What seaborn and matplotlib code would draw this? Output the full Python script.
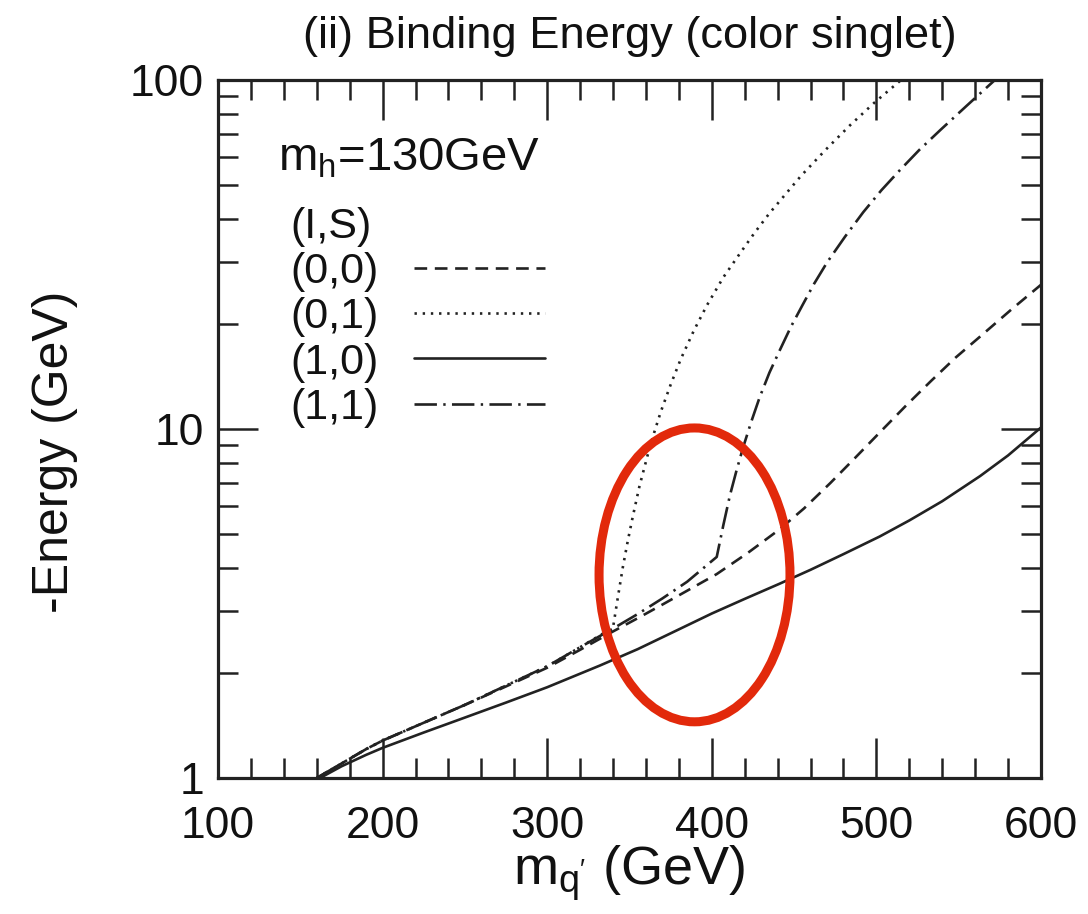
import matplotlib
matplotlib.use("Agg")
import matplotlib.pyplot as plt
from matplotlib.patches import Ellipse
from matplotlib.ticker import MultipleLocator, LogLocator, NullFormatter, FuncFormatter
import numpy as np
import pandas as pd
import seaborn as sns

# Binding energy (-E, GeV) versus heavy quark mass m_q' (GeV) for each (I,S) channel
mq_00 = [160, 175, 190, 200, 225, 250, 275, 300, 320, 340, 355, 370, 385, 403,
         422, 441, 456, 472, 487, 502, 518, 533, 548, 563, 582, 600]
E_00 = [1.00, 1.10, 1.21, 1.28, 1.44, 1.62, 1.83, 2.07, 2.33, 2.63, 2.87, 3.14, 3.44, 3.84,
        4.42, 5.15, 5.92, 7.00, 8.26, 9.77, 11.67, 13.7, 16.0, 18.4, 22.0, 25.9]

mq_01 = [160, 175, 190, 200, 225, 250, 275, 300, 320, 340, 343, 346, 349, 352, 356, 361,
         365, 369, 375, 381, 389, 397, 407, 417, 426, 435, 445, 454, 469, 484, 499, 515]
E_01 = [1.00, 1.10, 1.21, 1.28, 1.44, 1.62, 1.84, 2.09, 2.37, 2.70, 3.31, 4.03, 4.79, 5.61,
        6.84, 8.41, 9.77, 11.2, 13.4, 15.8, 19.1, 22.6, 27.2, 31.8, 36.5, 41.5, 47.2, 53.0,
        63.0, 74.2, 86.3, 100.0]

mq_10 = [162, 175, 190, 200, 225, 250, 275, 300, 332, 355, 381, 400, 420, 441,
         460, 480, 502, 520, 540, 563, 580, 600]
E_10 = [1.00, 1.08, 1.165, 1.22, 1.35, 1.49, 1.645, 1.82, 2.10, 2.34, 2.68, 2.96, 3.26, 3.60,
        3.95, 4.38, 4.92, 5.47, 6.21, 7.33, 8.40, 10.1]

mq_11 = [160, 175, 190, 200, 225, 250, 275, 300, 320, 340, 355, 370, 385, 403, 407, 411,
         415, 419, 424, 429, 435, 441, 448, 455, 462, 470, 481, 492, 503, 514, 526, 539,
         555, 572]
E_11 = [1.00, 1.10, 1.21, 1.28, 1.44, 1.62, 1.84, 2.09, 2.37, 2.68, 2.95, 3.27, 3.65, 4.30,
        5.30, 6.45, 7.60, 8.85, 10.5, 12.3, 14.5, 16.7, 19.6, 22.6, 26.0, 30.0, 35.6, 41.8,
        48.3, 55.0, 63.0, 72.0, 84.5, 100.0]

channels = ["(0,0)", "(0,1)", "(1,0)", "(1,1)"]

frames = []
for lab, xs, ys in zip(channels, [mq_00, mq_01, mq_10, mq_11], [E_00, E_01, E_10, E_11]):
    frames.append(pd.DataFrame({"m": xs, "E": ys, "IS": lab}))
df = pd.concat(frames, ignore_index=True)

sns.set_theme(style="ticks")
plt.rcParams["font.family"] = ["Liberation Sans", "DejaVu Sans"]
plt.rcParams["mathtext.fontset"] = "custom"
plt.rcParams["mathtext.rm"] = "Liberation Sans"
plt.rcParams["mathtext.it"] = "Liberation Sans"
plt.rcParams["mathtext.default"] = "regular"

ink = "#222222"
txt = "#111111"
fig = plt.figure(figsize=(10.88, 9.14), dpi=100)
ax = fig.add_axes([218 / 1088, 1 - 778 / 914, 823 / 1088, 698 / 914])

dash_map = {
    "(0,0)": (4.8, 2.9),
    "(0,1)": (0.9, 2.2),
    "(1,0)": "",
    "(1,1)": (8.5, 2.4, 0.9, 2.4),
}
sns.lineplot(data=df, x="m", y="E", style="IS", style_order=channels,
             dashes=dash_map, color=ink, linewidth=1.9, estimator=None,
             errorbar=None, legend=False, ax=ax)

ax.set_yscale("log")
ax.set_xlim(100, 600)
ax.set_ylim(1, 100)

ax.xaxis.set_major_locator(MultipleLocator(100))
ax.xaxis.set_minor_locator(MultipleLocator(20))
ax.yaxis.set_major_locator(LogLocator(base=10))
ax.yaxis.set_minor_locator(LogLocator(base=10, subs=np.arange(2, 10)))
ax.yaxis.set_major_formatter(FuncFormatter(lambda v, p: f"{v:g}"))
ax.yaxis.set_minor_formatter(NullFormatter())

ax.tick_params(which="both", direction="in", top=True, right=True,
               color=ink, width=1.8, labelsize=32, labelcolor=txt)
ax.tick_params(which="major", length=29)
ax.tick_params(which="minor", length=14.5)
ax.tick_params(axis="x", pad=20)
ax.tick_params(axis="y", pad=10)
for sp in ax.spines.values():
    sp.set_linewidth(2.3)
    sp.set_color(ink)

ax.set_title("(ii) Binding Energy (color singlet)", fontsize=32.6, pad=23, color=txt)
ax.set_xlabel("$m_{q'}$ (GeV)", fontsize=39, color=txt)
ax.set_ylabel("-Energy (GeV)", fontsize=36, color=txt)
ax.xaxis.set_label_coords(0.5, -0.093)
ax.yaxis.set_label_coords(-0.17, 0.468)

ax.text(0.073, 0.888, "$m_h$=130GeV", transform=ax.transAxes, fontsize=34,
        ha="left", va="center", color=txt)

leg = ax.legend(handles=ax.lines[:4], labels=channels, title="(I,S)",
                alignment="left", markerfirst=False, frameon=False,
                loc="upper left", bbox_to_anchor=(0.088, 0.818),
                fontsize=31, title_fontsize=31, handlelength=3.05,
                handletextpad=0.82, labelspacing=0.12, borderpad=0,
                borderaxespad=0)
for t in leg.get_texts():
    t.set_color(txt)
leg.get_title().set_color(txt)

# hand-drawn highlight around the threshold region
ax.add_patch(Ellipse((0.579, 0.291), 0.232, 0.421, transform=ax.transAxes,
                     fill=False, edgecolor="#e2290b", linewidth=6.5, zorder=5))

fig.savefig("out.png", dpi=100)
